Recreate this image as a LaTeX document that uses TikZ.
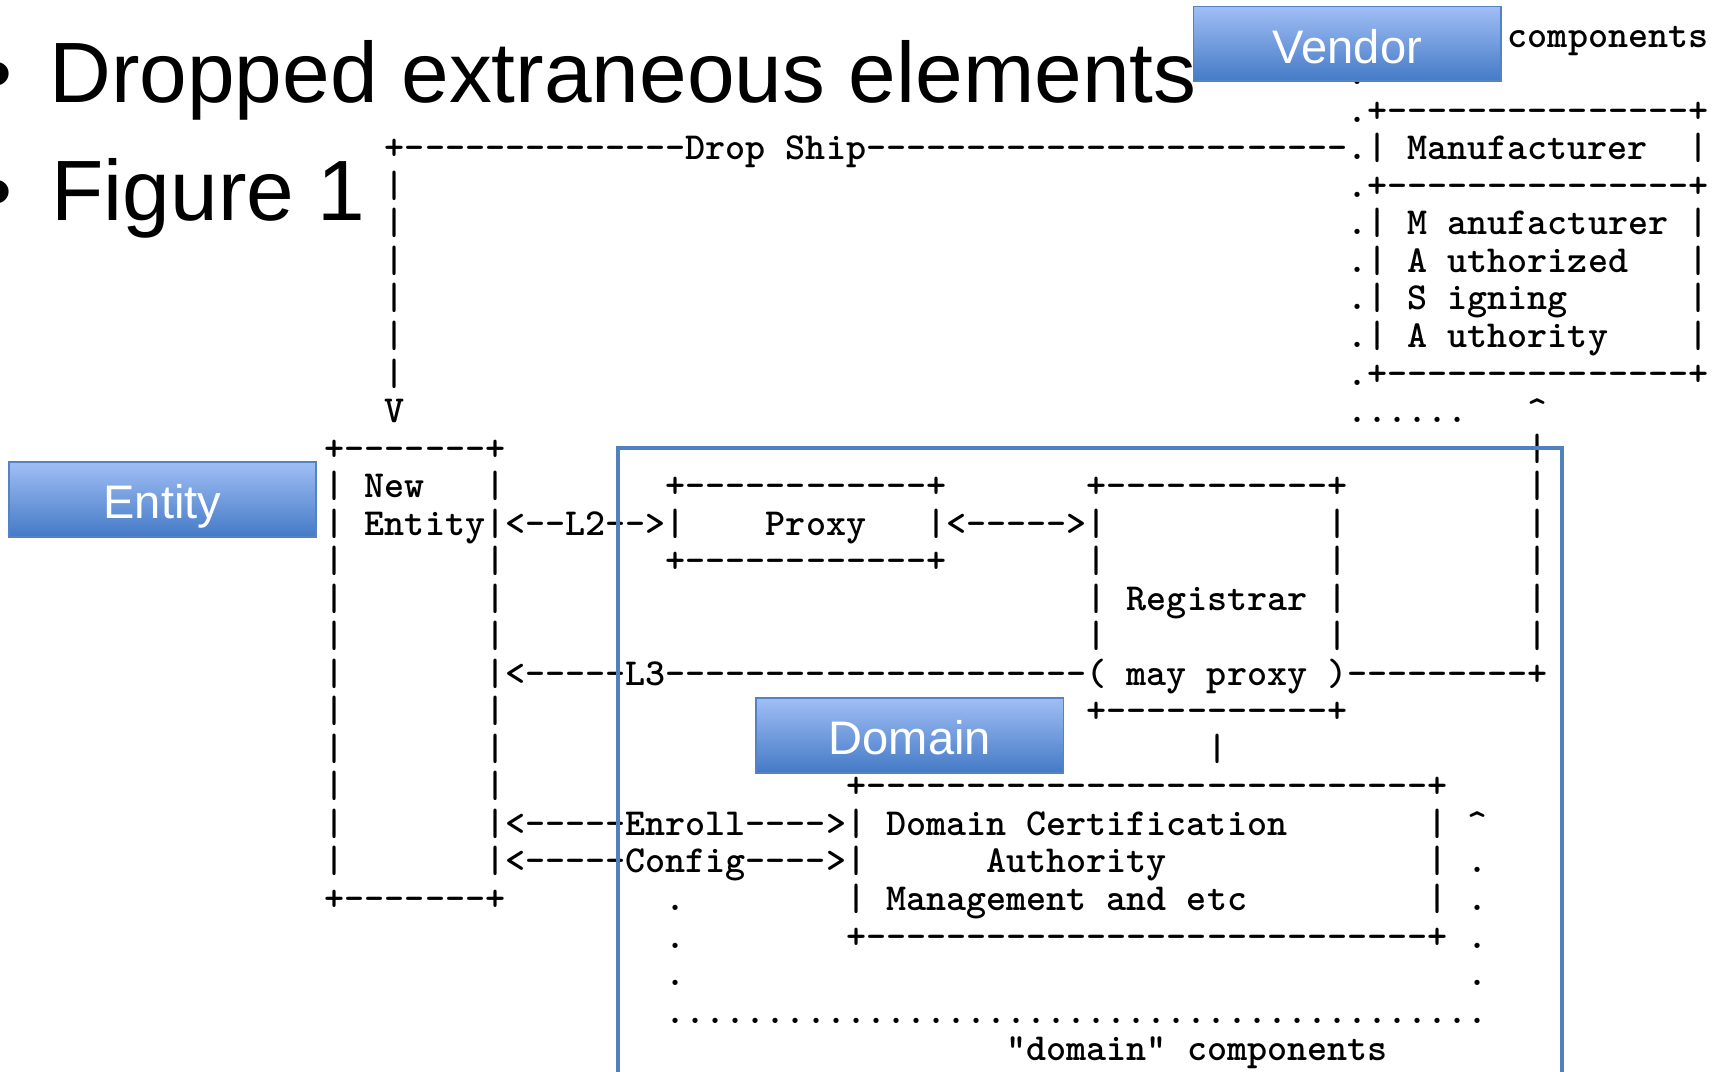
\documentclass[tikz,border=0pt]{standalone}
\usepackage{fontspec}
\newfontfamily\slidefont{Liberation Sans}
\definecolor{framecol}{RGB}{79,129,189}
\definecolor{tagtop}{RGB}{160,190,245}
\definecolor{tagbot}{RGB}{68,122,198}
\definecolor{tagline}{RGB}{84,130,196}
\tikzset{
    ascii/.style = {anchor=base west, inner sep=0pt, outer sep=0pt,
        font=\ttfamily\bfseries\fontsize{9.9}{12}\selectfont},
    bullet/.style = {anchor=base west, inner sep=0pt, outer sep=0pt,
        font=\slidefont\fontsize{22.2}{26}\selectfont},
    tag/.style = {draw=tagline, line width=0.15mm, top color=tagtop, bottom color=tagbot,
        minimum width=28mm, minimum height=6.8mm, inner sep=0pt, text=white,
        text height=4.4mm, text depth=0.9mm,
        font=\slidefont\fontsize{12.2}{14}\selectfont},
    domainframe/.style = {draw=framecol, line width=0.4mm}
}

\begin{document}
\begin{tikzpicture}[x=0.1mm, y=-0.1mm]
        \useasboundingbox (0,0) rectangle (1568,976);
        % slide bullets
        \node [bullet] (dot1) at (-16,93) {•};
        \node [bullet] (point1) at (45,93) {Dropped extraneous elements};
        \node [bullet] (dot2) at (-16,201) {•};
        \node [bullet] (point2) at (47,201) {Figure 1};
        % ascii figure, one unit = one character cell
        \begin{scope}[shift={(295.9,43)}, x=1.827mm, y=-3.42mm]
        \node [ascii] (vendtext) at (59,0) {components};
        \node [ascii] (vendot) at (51,1) {.};
        \node [ascii] (mtop) at (51,2) {.+---------------+};
        \node [ascii] (ship) at (3,3) {+--------------Drop Ship------------------------.| Manufacturer};
        \node [ascii] (mname) at (68,3) {|};
        \node [ascii] (mmid) at (51,4) {.+---------------+};
        \foreach \row/\txt in {5/M anufacturer,6/A uthorized,7/S igning,8/A uthority}{
            \node [ascii] (masa\row) at (51,\row) {.| \txt};
            \node [ascii] (mside\row) at (68,\row) {|};
        }
        \node [ascii] (mbot) at (51,9) {.+---------------+};
        \foreach \row in {4,...,9}
            \node [ascii] (drop\row) at (3,\row) {|};
        \node [ascii] (dropend) at (3,10) {V};
        \node [ascii] (vdots) at (51,10) {......};
        \node [ascii] (vup) at (60,10) {\textasciicircum};
        \foreach \row in {11,...,16}
            \node [ascii] (vline\row) at (60,\row) {|};
        % new entity
        \node [ascii] (etop) at (0,11) {+-------+};
        \node [ascii] (enew) at (0,12) {| New};
        \node [ascii] (eright12) at (8,12) {|};
        \node [ascii] (ename) at (0,13) {| Entity|<--L2-->|};
        \foreach \row in {14,...,22}
            \node [ascii] (eleft\row) at (0,\row) {|};
        \foreach \row in {14,15,16,18,19,20}
            \node [ascii] (eright\row) at (8,\row) {|};
        \node [ascii] (ebot) at (0,23) {+-------+};
        % proxy and registrar
        \node [ascii] (ptop) at (17,12) {+------------+};
        \node [ascii] (pname) at (22,13) {Proxy};
        \node [ascii] (plink) at (30,13) {|<----->|};
        \node [ascii] (pbot) at (17,14) {+------------+};
        \node [ascii] (rtop) at (38,12) {+-----------+};
        \node [ascii] (rright13) at (50,13) {|};
        \foreach \row in {14,16}{
            \node [ascii] (rleft\row) at (38,\row) {|};
            \node [ascii] (rright\row) at (50,\row) {|};
        }
        \node [ascii] (rname) at (38,15) {| Registrar |};
        \node [ascii] (lthree) at (8,17) {|<-----L3---------------------( may proxy )---------+};
        \node [ascii] (rbot) at (38,18) {+-----------+};
        \node [ascii] (rdown) at (44,19) {|};
        % certification authority
        \node [ascii] (catop) at (26,20) {+----------------------------+};
        \node [ascii] (enroll) at (8,21) {|<-----Enroll---->| Domain Certification};
        \node [ascii] (config) at (8,22) {|<-----Config---->|};
        \node [ascii] (caname) at (33,22) {Authority};
        \node [ascii] (camgmt) at (26,23) {| Management and etc};
        \foreach \row in {21,22,23}
            \node [ascii] (caside\row) at (55,\row) {|};
        \node [ascii] (cabot) at (26,24) {+----------------------------+};
        \node [ascii] (dup) at (57,21) {\textasciicircum};
        \foreach \row in {22,...,25}
            \node [ascii] (dright\row) at (57,\row) {.};
        \foreach \row in {23,24,25}
            \node [ascii] (dleft\row) at (17,\row) {.};
        \node [ascii] (dbase) at (17,26) {.........................................};
        \node [ascii] (dname) at (34,27) {"domain" components};
        \end{scope}
        % overlays
        \draw [domainframe] (563,990) |- (1423,408) -- (1423,990);
        \node [tag] (vendor) at (1227.5,40) {Vendor};
        \node [tag] (entity) at (148,455) {Entity};
        \node [tag] (domain) at (829,670) {Domain};
\end{tikzpicture}
\end{document}
